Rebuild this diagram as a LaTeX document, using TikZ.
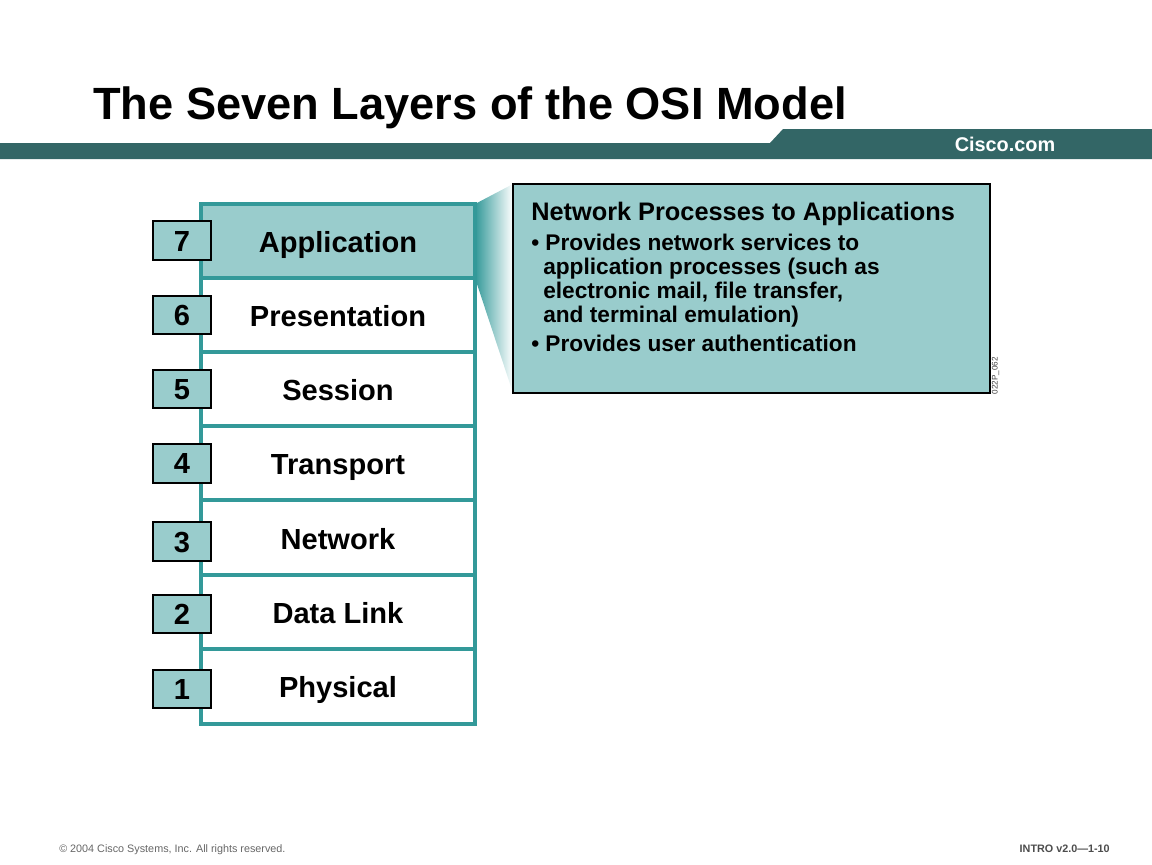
\documentclass[tikz,border=0pt]{standalone}
\usepackage{fontspec}
\setmainfont{Liberation Sans}
\usetikzlibrary{shadings}
\definecolor{bandgreen}{HTML}{336666}
\definecolor{layerteal}{HTML}{339999}
\definecolor{paleteal}{HTML}{99CCCC}
\tikzset{
  layerlabel/.style={anchor=base, inner sep=0pt, font=\fontsize{21.8pt}{24pt}\selectfont\bfseries},
  numbox/.style={draw=black, line width=1.3pt, fill=paleteal, minimum width=43.5pt, minimum height=29pt, inner sep=0pt},
  numlabel/.style={anchor=base, inner sep=0pt, font=\fontsize{21.8pt}{24pt}\selectfont\bfseries},
  boxline/.style={anchor=base west, inner sep=0pt, font=\fontsize{17pt}{18pt}\selectfont\bfseries},
  footer/.style={inner sep=0pt, font=\fontsize{8.1pt}{10pt}\selectfont}
}
\begin{document}
\begin{tikzpicture}[x=0.75pt,y=-0.75pt]
\useasboundingbox (0,0) rectangle (1152,864);
% header
\node[anchor=base west, inner sep=0pt, font=\fontsize{33.9pt}{36pt}\selectfont\bfseries] (title) at (93,119.5) {The Seven Layers of the OSI Model};
\fill[bandgreen] (0,143) -- (770,143) -- (783,129) -- (1152,129) -- (1152,159) -- (0,159) -- cycle;
\node[anchor=base, inner sep=0pt, text=white, font=\fontsize{14.9pt}{18pt}\selectfont\bfseries] (cisco) at (1005,151) {Cisco.com};
% wedge to the callout
\shade[left color=layerteal, middle color=layerteal!60!white, right color=white] (475,204) -- (513,184) -- (513,393) -- (475,278) -- cycle;
% layers
\fill[paleteal] (201,204) rectangle (475,278);
\draw[layerteal, line width=2.4pt] (201,204) rectangle (475,724);
\foreach \y in {278,352,426,500,575,649}
  \draw[layerteal, line width=2.4pt] (201,\y) -- (475,\y);
\foreach \name/\y/\txt in {app/252/Application, pres/326/Presentation, sess/400/Session, trans/474/Transport, net/549/Network, dlink/623/Data Link, phys/697/Physical}
  \node[layerlabel] (\name) at (338,\y) {\txt};
% layer numbers
\foreach \num/\y/\base in {7/240.5/251, 6/315/325, 5/389/399, 4/463.5/473, 3/541.5/552, 2/614/624, 1/689/699}{
  \node[numbox] (box\num) at (182,\y) {};
  \node[numlabel] (num\num) at (182,\base) {\num};
}
% callout
\node[draw=black, line width=1.5pt, fill=paleteal, minimum width=357.5pt, minimum height=156.5pt, inner sep=0pt] (callout) at (751.5,288.5) {};
\node[boxline, font=\fontsize{19pt}{20pt}\selectfont\bfseries] (head) at (531,220) {Network Processes to Applications};
\node[boxline] (l1) at (531,250) {• Provides network services to};
\node[boxline] (l2) at (543,274) {application processes (such as};
\node[boxline] (l3) at (543,298) {electronic mail, file transfer,};
\node[boxline] (l4) at (543,322) {and terminal emulation)};
\node[boxline] (l5) at (531,351) {• Provides user authentication};
\node[rotate=90, inner sep=0pt, text=black!75, font=\fontsize{6.1pt}{7pt}\selectfont] (code) at (995.5,375.5) {022P\_062};
% footer
\node[footer, anchor=base west, text=black!60] (copy) at (59,852) {© 2004 Cisco Systems, Inc. All rights reserved.};
\node[footer, anchor=base east, text=black!70, font=\fontsize{8.1pt}{10pt}\selectfont\bfseries] (intro) at (1110,852) {INTRO v2.0—1-10};
\end{tikzpicture}
\end{document}
